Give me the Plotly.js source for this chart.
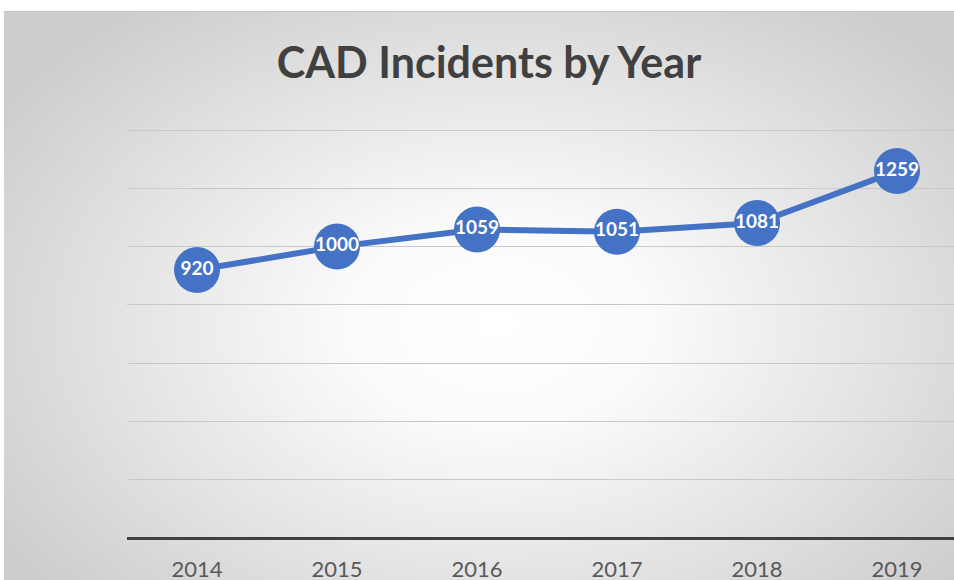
<!DOCTYPE html>
<html>
<head>
<meta charset="utf-8">
<script src="https://cdn.plot.ly/plotly-3.0.1.min.js"></script>
<style>
  html, body { margin: 0; padding: 0; background: #ffffff; width: 954px; height: 580px; overflow: hidden; }
  #bg { position: absolute; left: 4px; top: 11px; width: 950px; height: 569px;
        border-top: 1px solid #c4c4c4;
        background: radial-gradient(ellipse 62% 70% at 52% 55%, #ffffff 0%, #fbfbfb 25%, #e6e6e6 60%, #cdcdcd 100%); }
  #chart { position: absolute; left: 0; top: 0; width: 954px; height: 580px; }
</style>
</head>
<body>
<div id="bg"></div>
<div id="chart"></div>
<script>
const years = ['2014', '2015', '2016', '2017', '2018', '2019'];
const incidents = [920, 1000, 1059, 1051, 1081, 1259];
const labels = incidents.map(String);
const titleText = 'CAD Incidents by Year';

const FONT = 'Lato, "Open Sans", sans-serif';

const trace = {
  x: years,
  y: incidents,
  text: labels,
  type: 'scatter',
  mode: 'lines+markers+text',
  line: { color: '#4472C4', width: 6 },
  marker: { color: '#4472C4', size: 46 },
  textposition: 'middle center',
  textfont: { family: FONT, size: 19, color: '#ffffff', weight: 'bold' },
  cliponaxis: false,
  hoverinfo: 'x+y'
};

const layout = {
  width: 954,
  height: 580,
  margin: { l: 127, r: 0, t: 121, b: 42, pad: 0 },
  paper_bgcolor: 'rgba(0,0,0,0)',
  plot_bgcolor: 'rgba(0,0,0,0)',
  showlegend: false,
  title: {
    text: '<b>' + titleText + '</b>',
    font: { family: FONT, size: 43, color: '#404040' },
    x: 489 / 954, xref: 'container', xanchor: 'center',
    y: 1 - 63 / 580, yref: 'container', yanchor: 'middle'
  },
  xaxis: {
    type: 'category',
    range: [-0.5, 5.407],
    showgrid: false,
    zeroline: false,
    showline: false,
    ticks: '',
    tickfont: { family: FONT, size: 22, color: '#595959' },
    ticklabelstandoff: 16,
    fixedrange: true
  },
  yaxis: {
    range: [0, 1431],
    tickvals: [0, 200, 400, 600, 800, 1000, 1200, 1400],
    showgrid: true,
    gridcolor: '#c8c8c8',
    gridwidth: 1,
    zeroline: true,
    zerolinecolor: '#404040',
    zerolinewidth: 3,
    showticklabels: false,
    ticks: '',
    showline: false,
    fixedrange: true
  }
};

Plotly.newPlot('chart', [trace], layout, { displayModeBar: false, staticPlot: true });
</script>
</body>
</html>
